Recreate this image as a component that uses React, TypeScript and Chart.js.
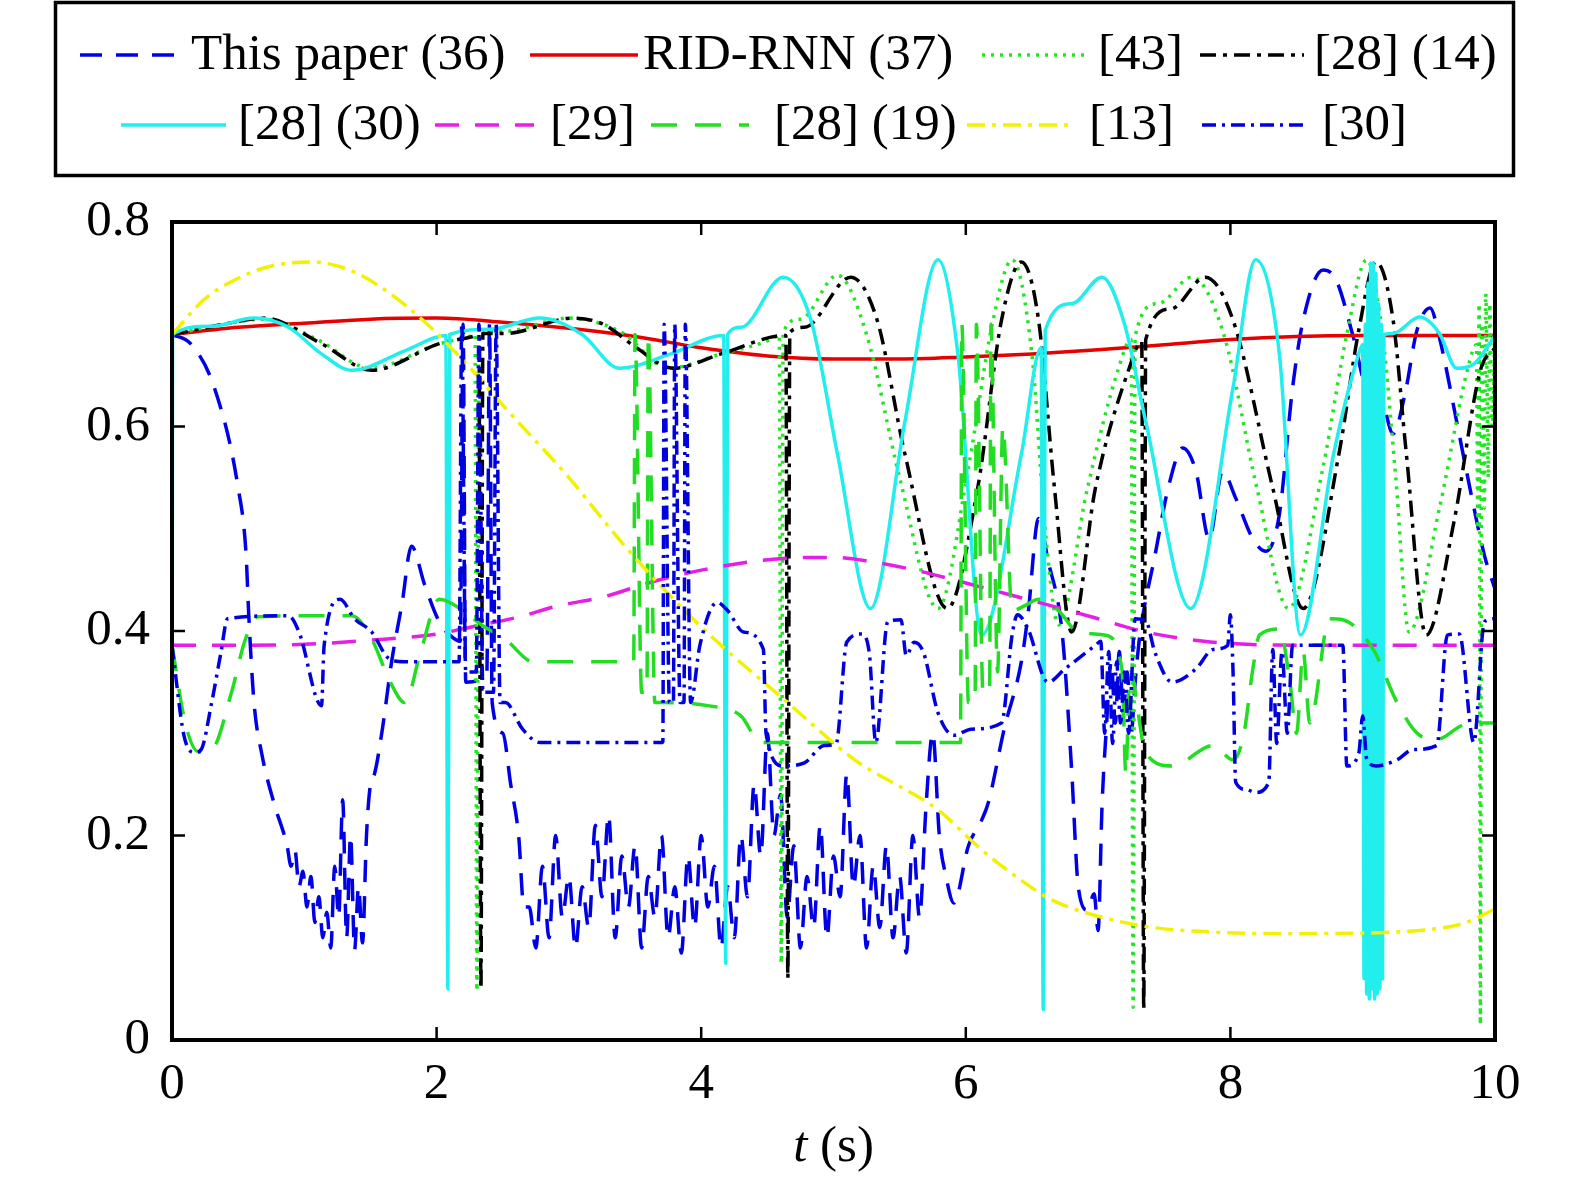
import { useEffect, useRef } from 'react';
import { Chart, registerables } from 'chart.js';

Chart.register(...registerables);

// ---- data (t in s) ----
const labels = ['This paper (36)', 'RID-RNN (37)', '[43]', '[28] (14)', '[28] (30)', '[29]', '[28] (19)', '[13]', '[30]'];

const tPaper = [
  0, 0.14, 0.32, 0.5, 0.56, 0.58, 0.62, 0.68, 0.77, 0.87,
  0.9, 0.93, 0.96, 0.99, 1.02, 1.05, 1.08, 1.11, 1.14, 1.17,
  1.2, 1.23, 1.26, 1.29, 1.32, 1.35, 1.38, 1.41, 1.44, 1.47,
  1.5, 1.53, 1.59, 1.66, 1.74, 1.81, 1.91, 2.02, 2.1, 2.18,
  2.2, 2.22, 2.38, 2.4, 2.42, 2.5, 2.56, 2.62, 2.66,
  2.7, 2.75, 2.8, 2.85, 2.9, 2.95, 3.0, 3.05, 3.1, 3.15,
  3.2, 3.25, 3.3, 3.35, 3.4, 3.45, 3.5, 3.55, 3.6, 3.65,
  3.7, 3.75, 3.8, 3.85, 3.9, 3.95, 4.0, 4.05, 4.1, 4.15,
  4.2, 4.25, 4.3, 4.35, 4.4, 4.45, 4.5, 4.55, 4.6, 4.65,
  4.7, 4.75, 4.8, 4.85, 4.9, 4.95, 5.0, 5.05, 5.1, 5.15,
  5.2, 5.25, 5.3, 5.35, 5.4, 5.45, 5.5, 5.55, 5.6, 5.65,
  5.7, 5.75, 5.8,
  5.85, 5.91, 6.02, 6.12, 6.17, 6.29, 6.42, 6.47, 6.55, 6.62,
  6.73, 6.8, 6.85, 6.92, 6.97, 7.0, 7.03, 7.06, 7.1, 7.13,
  7.16, 7.19, 7.22, 7.25, 7.28, 7.31, 7.33, 7.43, 7.53, 7.64,
  7.74, 7.84, 7.94, 8.04, 8.17, 8.27, 8.37, 8.47, 8.55, 8.7,
  8.8, 8.93, 9.03, 9.13, 9.23, 9.32, 9.41, 9.51, 9.58, 9.71,
  9.81, 9.92, 10,
];
const vPaper = [
  0.69, 0.681, 0.638, 0.54, 0.475, 0.416, 0.33, 0.279, 0.232, 0.19,
  0.17, 0.185, 0.15, 0.165, 0.13, 0.16, 0.115, 0.14, 0.1, 0.125,
  0.09, 0.17, 0.12, 0.235, 0.1, 0.2, 0.088, 0.15, 0.095, 0.2,
  0.25, 0.26, 0.304, 0.37, 0.428, 0.483, 0.445, 0.409, 0.396, 0.39,
  0.7, 0.35, 0.36, 0.7, 0.33, 0.3, 0.25, 0.2, 0.13,
  0.13, 0.09, 0.17, 0.1, 0.2, 0.12, 0.16, 0.09, 0.15, 0.11,
  0.21, 0.14, 0.22, 0.1, 0.18, 0.13, 0.19, 0.09, 0.16, 0.12,
  0.2, 0.1, 0.15, 0.085, 0.18, 0.11, 0.2, 0.13, 0.17, 0.09,
  0.15, 0.1, 0.2, 0.14, 0.25, 0.18, 0.3, 0.2, 0.24, 0.12,
  0.19, 0.09, 0.16, 0.11, 0.21, 0.1, 0.18, 0.14, 0.26, 0.15,
  0.2, 0.09, 0.17, 0.11, 0.19, 0.1, 0.16, 0.085, 0.2, 0.12,
  0.23, 0.3, 0.2,
  0.16, 0.134, 0.19, 0.215, 0.232, 0.304, 0.37, 0.416, 0.51, 0.47,
  0.396, 0.264, 0.15, 0.127, 0.143, 0.107, 0.23, 0.3, 0.37, 0.31,
  0.38, 0.32, 0.36, 0.3, 0.35, 0.39, 0.409, 0.474, 0.54, 0.579,
  0.556, 0.49, 0.556, 0.53, 0.49, 0.478, 0.514, 0.638, 0.704, 0.753,
  0.743, 0.687, 0.638, 0.632, 0.593, 0.632, 0.694, 0.716, 0.687, 0.605,
  0.54, 0.474, 0.441,
];

const tRed = [0, 0.5, 1, 1.5, 2, 2.5, 3, 3.5, 4, 4.5, 5, 5.5, 6, 6.5, 7, 7.5, 8, 8.5, 9, 9.5, 10];
const vRed = [0.69, 0.697, 0.701, 0.705, 0.706, 0.702, 0.696, 0.688, 0.677, 0.669, 0.666, 0.666, 0.668, 0.671, 0.675, 0.68, 0.685, 0.688, 0.689, 0.689, 0.689];

const t43 = [
  0, 0.35, 0.7, 1.1, 1.5, 2.0, 2.27, 2.29, 2.305, 2.32,
  2.5, 3.0, 3.4, 3.75, 4.15, 4.57, 4.59, 4.605, 4.62, 4.75,
  5.03, 5.25, 5.5, 5.79, 6.02, 6.2, 6.35, 6.5, 6.6, 6.7,
  6.92, 7.15, 7.25, 7.265, 7.28, 7.45, 7.71, 7.95, 8.2, 8.44,
  8.7, 8.88, 9.03, 9.15, 9.25, 9.35, 9.58, 9.8, 9.86, 9.87,
  9.88, 9.89, 9.9, 9.92, 9.93, 9.95, 9.96, 9.98, 10,
];
const v43 = [
  0.69, 0.699, 0.705, 0.685, 0.657, 0.68, 0.689, 0.69, 0.048, 0.69,
  0.693, 0.706, 0.692, 0.657, 0.671, 0.688, 0.69, 0.075, 0.692, 0.705,
  0.748, 0.69, 0.55, 0.422, 0.56, 0.7, 0.763, 0.67, 0.5, 0.406,
  0.54, 0.655, 0.685, 0.032, 0.688, 0.72, 0.746, 0.69, 0.54, 0.422,
  0.56, 0.69, 0.763, 0.69, 0.55, 0.399, 0.52, 0.66, 0.68, 0.5,
  0.72, 0.015, 0.7, 0.52, 0.73, 0.55, 0.72, 0.6, 0.7,
];

const t14 = [
  0, 0.35, 0.7, 1.13, 1.51, 2.02, 2.3, 2.32, 2.335, 2.35,
  2.52, 3.03, 3.26, 3.51, 3.79, 4.15, 4.64, 4.655, 4.67, 4.78,
  5.13, 5.33, 5.54, 5.86, 6.09, 6.27, 6.42, 6.55, 6.67, 6.8,
  6.98, 7.23, 7.33, 7.345, 7.36, 7.55, 7.81, 8.02, 8.32, 8.55,
  8.82, 8.97, 9.1, 9.23, 9.33, 9.48, 9.69, 9.89, 10,
];
const v14 = [
  0.69, 0.699, 0.706, 0.681, 0.655, 0.681, 0.689, 0.69, 0.05, 0.691,
  0.691, 0.706, 0.7, 0.677, 0.657, 0.671, 0.689, 0.06, 0.692, 0.697,
  0.746, 0.704, 0.573, 0.422, 0.54, 0.704, 0.761, 0.704, 0.54, 0.399,
  0.54, 0.655, 0.683, 0.03, 0.685, 0.715, 0.746, 0.704, 0.54, 0.422,
  0.573, 0.694, 0.761, 0.704, 0.573, 0.396, 0.507, 0.655, 0.677,
];

const t30b = [
  0, 0.004, 0.3, 0.62, 0.88, 1.13, 1.36, 1.76, 2.07, 2.085,
  2.1, 2.4, 2.78, 3.1, 3.38, 3.77, 4.17, 4.185, 4.2, 4.3,
  4.62, 4.83, 5.03, 5.28, 5.54, 5.79, 5.94, 6.12, 6.42, 6.57,
  6.585, 6.6, 6.8, 7.03, 7.2, 7.36, 7.7, 8.02, 8.19, 8.37,
  8.53, 8.78, 8.97, 9.0, 9.01, 9.02, 9.03, 9.04, 9.05, 9.06,
  9.07, 9.08, 9.09, 9.1, 9.11, 9.12, 9.13, 9.14, 9.15, 9.16,
  9.23, 9.43, 9.58, 9.71, 9.84, 10,
];
const v30b = [
  0.092, 0.69, 0.698, 0.706, 0.697, 0.671, 0.655, 0.674, 0.689, 0.05,
  0.69, 0.695, 0.706, 0.69, 0.657, 0.671, 0.689, 0.075, 0.69, 0.697,
  0.746, 0.704, 0.573, 0.422, 0.605, 0.763, 0.671, 0.396, 0.573, 0.677,
  0.03, 0.694, 0.72, 0.746, 0.7, 0.605, 0.422, 0.638, 0.763, 0.671,
  0.396, 0.573, 0.671, 0.68, 0.06, 0.7, 0.045, 0.74, 0.04, 0.76,
  0.05, 0.76, 0.04, 0.75, 0.045, 0.72, 0.05, 0.7, 0.06, 0.69,
  0.691, 0.707, 0.691, 0.657, 0.661, 0.689,
];

const t29 = [0, 0.5, 1, 1.5, 2, 2.3, 2.63, 2.9, 3.28, 3.6, 4.02, 4.62, 5.0, 5.28, 5.6, 5.91, 6.2, 6.55, 7.0, 7.36, 7.8, 8.12, 8.6, 9, 9.5, 10];
const v29 = [0.386, 0.386, 0.387, 0.391, 0.397, 0.405, 0.414, 0.424, 0.434, 0.447, 0.46, 0.471, 0.472, 0.468, 0.46, 0.45, 0.44, 0.428, 0.412, 0.399, 0.39, 0.387, 0.386, 0.386, 0.386, 0.386];

const t19 = [
  0, 0.1, 0.2, 0.3, 0.45, 0.55, 0.65, 1.36, 1.51, 1.65,
  1.76, 1.88, 2.02, 2.2, 2.35, 2.52, 2.73, 3.49, 3.5, 3.55,
  3.59, 3.6, 3.65, 3.7, 4.05, 4.3, 4.45, 5.96, 5.97, 6.02,
  6.07, 6.08, 6.13, 6.18, 6.19, 6.24, 6.28, 6.35, 6.45, 6.55,
  6.7, 6.85, 7.05, 7.18, 7.21, 7.24, 7.36, 7.56, 7.87, 8.02,
  8.1, 8.17, 8.22, 8.37, 8.45, 8.5, 8.55, 8.6, 8.75, 8.85,
  9.08, 9.26, 9.43, 9.56, 9.76, 9.94, 10,
];
const v19 = [
  0.386, 0.31, 0.282, 0.284, 0.34, 0.39, 0.414, 0.415, 0.392, 0.35,
  0.33, 0.38, 0.431, 0.42, 0.405, 0.392, 0.37, 0.37, 0.69, 0.34,
  0.34, 0.69, 0.33, 0.33, 0.327, 0.317, 0.291, 0.291, 0.7, 0.33,
  0.33, 0.7, 0.34, 0.34, 0.7, 0.36, 0.6, 0.42, 0.425, 0.431,
  0.42, 0.399, 0.396, 0.363, 0.26, 0.36, 0.281, 0.268, 0.288, 0.274,
  0.298, 0.363, 0.396, 0.402, 0.35, 0.3, 0.38, 0.31, 0.412, 0.411,
  0.382, 0.33, 0.298, 0.294, 0.308, 0.31, 0.31,
];

const t13 = [0, 0.25, 0.5, 0.75, 1.05, 1.3, 1.51, 1.87, 2.27, 2.52, 3.0, 3.41, 3.96, 4.68, 5.16, 5.79, 6.12, 6.4, 6.65, 6.92, 7.36, 7.8, 8.37, 9.13, 9.5, 9.76, 10];
const v13 = [0.69, 0.725, 0.745, 0.757, 0.761, 0.755, 0.742, 0.707, 0.655, 0.618, 0.55, 0.485, 0.409, 0.327, 0.274, 0.225, 0.186, 0.158, 0.137, 0.124, 0.111, 0.106, 0.104, 0.105, 0.108, 0.114, 0.128];

const t30 = [
  0, 0.09, 0.17, 0.22, 0.3, 0.37, 0.42, 0.88, 0.96, 1.13,
  1.15, 1.27, 1.38, 1.51, 1.64, 1.76, 2.17, 2.19, 2.22, 2.3,
  2.32, 2.35, 2.43, 2.45, 2.48, 2.52, 2.65, 2.78, 3.71, 3.72,
  3.76, 3.79, 3.8, 3.84, 3.87, 3.88, 3.92, 3.99, 4.12, 4.2,
  4.32, 4.47, 4.49, 4.62, 4.78, 4.93, 5.02, 5.1, 5.21, 5.27,
  5.32, 5.41, 5.51, 5.55, 5.61, 5.68, 5.79, 5.91, 6.04, 6.27,
  6.35, 6.39, 6.47, 6.62, 6.75, 6.98, 7.02, 7.05, 7.08, 7.11,
  7.14, 7.17, 7.2, 7.23, 7.28, 7.36, 7.43, 7.56, 7.74, 7.87,
  7.98, 8.0, 8.02, 8.04, 8.12, 8.19, 8.29, 8.32, 8.35, 8.39,
  8.43, 8.47, 8.65, 8.85, 8.88, 8.97, 9.0, 9.03, 9.1, 9.26,
  9.38, 9.56, 9.64, 9.73, 9.84, 9.92, 10,
];
const v30 = [
  0.386, 0.298, 0.281, 0.284, 0.33, 0.379, 0.412, 0.415, 0.399, 0.327,
  0.386, 0.431, 0.412, 0.399, 0.373, 0.37, 0.37, 0.7, 0.36, 0.36,
  0.7, 0.34, 0.34, 0.7, 0.33, 0.33, 0.304, 0.291, 0.291, 0.7,
  0.33, 0.33, 0.7, 0.33, 0.33, 0.7, 0.33, 0.386, 0.428, 0.42,
  0.399, 0.382, 0.3, 0.268, 0.271, 0.288, 0.29, 0.389, 0.397, 0.379,
  0.291, 0.409, 0.411, 0.376, 0.389, 0.379, 0.32, 0.298, 0.304, 0.31,
  0.396, 0.416, 0.402, 0.35, 0.363, 0.386, 0.39, 0.3, 0.38, 0.29,
  0.37, 0.31, 0.36, 0.3, 0.412, 0.41, 0.379, 0.35, 0.363, 0.382,
  0.386, 0.416, 0.36, 0.252, 0.245, 0.242, 0.252, 0.382, 0.29, 0.38,
  0.3, 0.386, 0.386, 0.386, 0.268, 0.28, 0.317, 0.275, 0.268, 0.274,
  0.284, 0.288, 0.396, 0.397, 0.291, 0.409, 0.412,
];

const xTicks = [0, 2, 4, 6, 8, 10];
const yTicks = [0, 0.2, 0.4, 0.6, 0.8];

const seriesT = [tPaper, tRed, t43, t14, t30b, t29, t19, t13, t30];
const seriesV = [vPaper, vRed, v43, v14, v30b, v29, v19, v13, v30];

// ---- styling ----
const lineStyles = [
  { color: '#0000e6', dash: [22, 14] },
  { color: '#e60000', dash: [] },
  { color: '#22e622', dash: [3, 6] },
  { color: '#000000', dash: [16, 7, 4, 7] },
  { color: '#22eeee', dash: [] },
  { color: '#e61ee6', dash: [24, 16] },
  { color: '#22dd22', dash: [26, 18] },
  { color: '#f2f200', dash: [18, 7, 4, 7] },
  { color: '#0000dd', dash: [14, 6, 3, 6] },
];

// legend layout (px)
const legendSlots = [
  { row: 0, x0: 80, x1: 186, tx: 191 },
  { row: 0, x0: 530, x1: 638, tx: 643 },
  { row: 0, x0: 982, x1: 1088, tx: 1098 },
  { row: 0, x0: 1200, x1: 1304, tx: 1314 },
  { row: 1, x0: 121, x1: 226, tx: 238 },
  { row: 1, x0: 435, x1: 534, tx: 550 },
  { row: 1, x0: 651, x1: 749, tx: 774 },
  { row: 1, x0: 967, x1: 1073, tx: 1089 },
  { row: 1, x0: 1202, x1: 1306, tx: 1322 },
];
const legendRowY = [55, 125];

const FONT = '"Liberation Serif", "Times New Roman", serif';
const FS = 51;

const framePlugin = {
  id: 'frame',
  afterDraw(chart: any) {
    const { ctx, chartArea: a, scales } = chart;
    ctx.save();
    ctx.setLineDash([]);
    ctx.strokeStyle = '#000';
    ctx.lineWidth = 4;
    ctx.strokeRect(a.left, a.top, a.right - a.left, a.bottom - a.top);

    // inward ticks on all four sides
    ctx.lineWidth = 2.5;
    ctx.beginPath();
    xTicks.forEach((v) => {
      const px = scales.x.getPixelForValue(v);
      ctx.moveTo(px, a.bottom);
      ctx.lineTo(px, a.bottom - 13);
      ctx.moveTo(px, a.top);
      ctx.lineTo(px, a.top + 13);
    });
    yTicks.forEach((v) => {
      const py = scales.y.getPixelForValue(v);
      ctx.moveTo(a.left, py);
      ctx.lineTo(a.left + 13, py);
      ctx.moveTo(a.right, py);
      ctx.lineTo(a.right - 13, py);
    });
    ctx.stroke();

    // x axis title: italic t, upright (s)
    ctx.fillStyle = '#000';
    ctx.textBaseline = 'middle';
    ctx.textAlign = 'left';
    ctx.font = `italic ${FS}px ${FONT}`;
    const w1 = ctx.measureText('t').width;
    ctx.font = `${FS}px ${FONT}`;
    const w2 = ctx.measureText(' (s)').width;
    const cx = (a.left + a.right) / 2;
    const ty = 1148;
    ctx.font = `italic ${FS}px ${FONT}`;
    ctx.fillText('t', cx - (w1 + w2) / 2, ty);
    ctx.font = `${FS}px ${FONT}`;
    ctx.fillText(' (s)', cx - (w1 + w2) / 2 + w1, ty);

    // legend box
    ctx.lineWidth = 3.5;
    ctx.strokeRect(55.5, 2.5, 1458, 173);
    chart.data.datasets.forEach((ds: any, i: number) => {
      const s = legendSlots[i];
      const y = legendRowY[s.row];
      ctx.strokeStyle = ds.borderColor;
      ctx.lineWidth = ds.borderWidth;
      ctx.setLineDash(ds.borderDash || []);
      ctx.beginPath();
      ctx.moveTo(s.x0, y);
      ctx.lineTo(s.x1, y);
      ctx.stroke();
      ctx.setLineDash([]);
      ctx.fillStyle = '#000';
      ctx.font = `${FS}px ${FONT}`;
      ctx.fillText(ds.label, s.tx, y + 1);
    });
    ctx.restore();
  },
};

export default function App() {
  const chartRef = useRef<HTMLCanvasElement | null>(null);

  useEffect(() => {
    document.body.style.margin = '0';
    document.body.style.overflow = 'hidden';
    let chart: Chart | null = null;
    if (chartRef.current) {
      const datasets = labels.map((label, i) => ({
        label,
        data: seriesT[i].map((t, j) => ({ x: t, y: seriesV[i][j] })),
        borderColor: lineStyles[i].color,
        backgroundColor: lineStyles[i].color,
        borderDash: lineStyles[i].dash,
        borderWidth: 3.5,
        pointRadius: 0,
        fill: false,
        cubicInterpolationMode: 'monotone' as const,
        order: labels.length - 1 - i,
      }));
      chart = new Chart(chartRef.current, {
        type: 'line',
        data: { datasets },
        options: {
          animation: false,
          responsive: false,
          events: [],
          layout: { padding: { top: 222, right: 80, left: 0, bottom: 0 } },
          plugins: { legend: { display: false }, tooltip: { enabled: false } },
          scales: {
            x: {
              type: 'linear',
              min: 0,
              max: 10,
              afterFit: (s: any) => { s.height = 141; },
              afterBuildTicks: (s: any) => { s.ticks = xTicks.map((v) => ({ value: v })); },
              grid: { display: false, drawTicks: false },
              border: { display: false },
              ticks: { color: '#000', font: { family: FONT, size: FS }, padding: 14, maxRotation: 0 },
            },
            y: {
              min: 0,
              max: 0.8,
              afterFit: (s: any) => { s.width = 172; },
              afterBuildTicks: (s: any) => { s.ticks = yTicks.map((v) => ({ value: v })); },
              grid: { display: false, drawTicks: false },
              border: { display: false },
              ticks: {
                color: '#000',
                font: { family: FONT, size: FS },
                padding: 22,
                callback: (v: any) => String(Math.round(Number(v) * 10) / 10),
              },
            },
          },
        },
        plugins: [framePlugin],
      });
    }
    return () => {
      if (chart) chart.destroy();
    };
  }, []);

  return (
    <div style={{ position: 'relative', width: 1575, height: 1181, overflow: 'hidden', background: '#fff' }}>
      <canvas ref={chartRef} width={1575} height={1181} style={{ display: 'block' }}></canvas>
    </div>
  );
}
